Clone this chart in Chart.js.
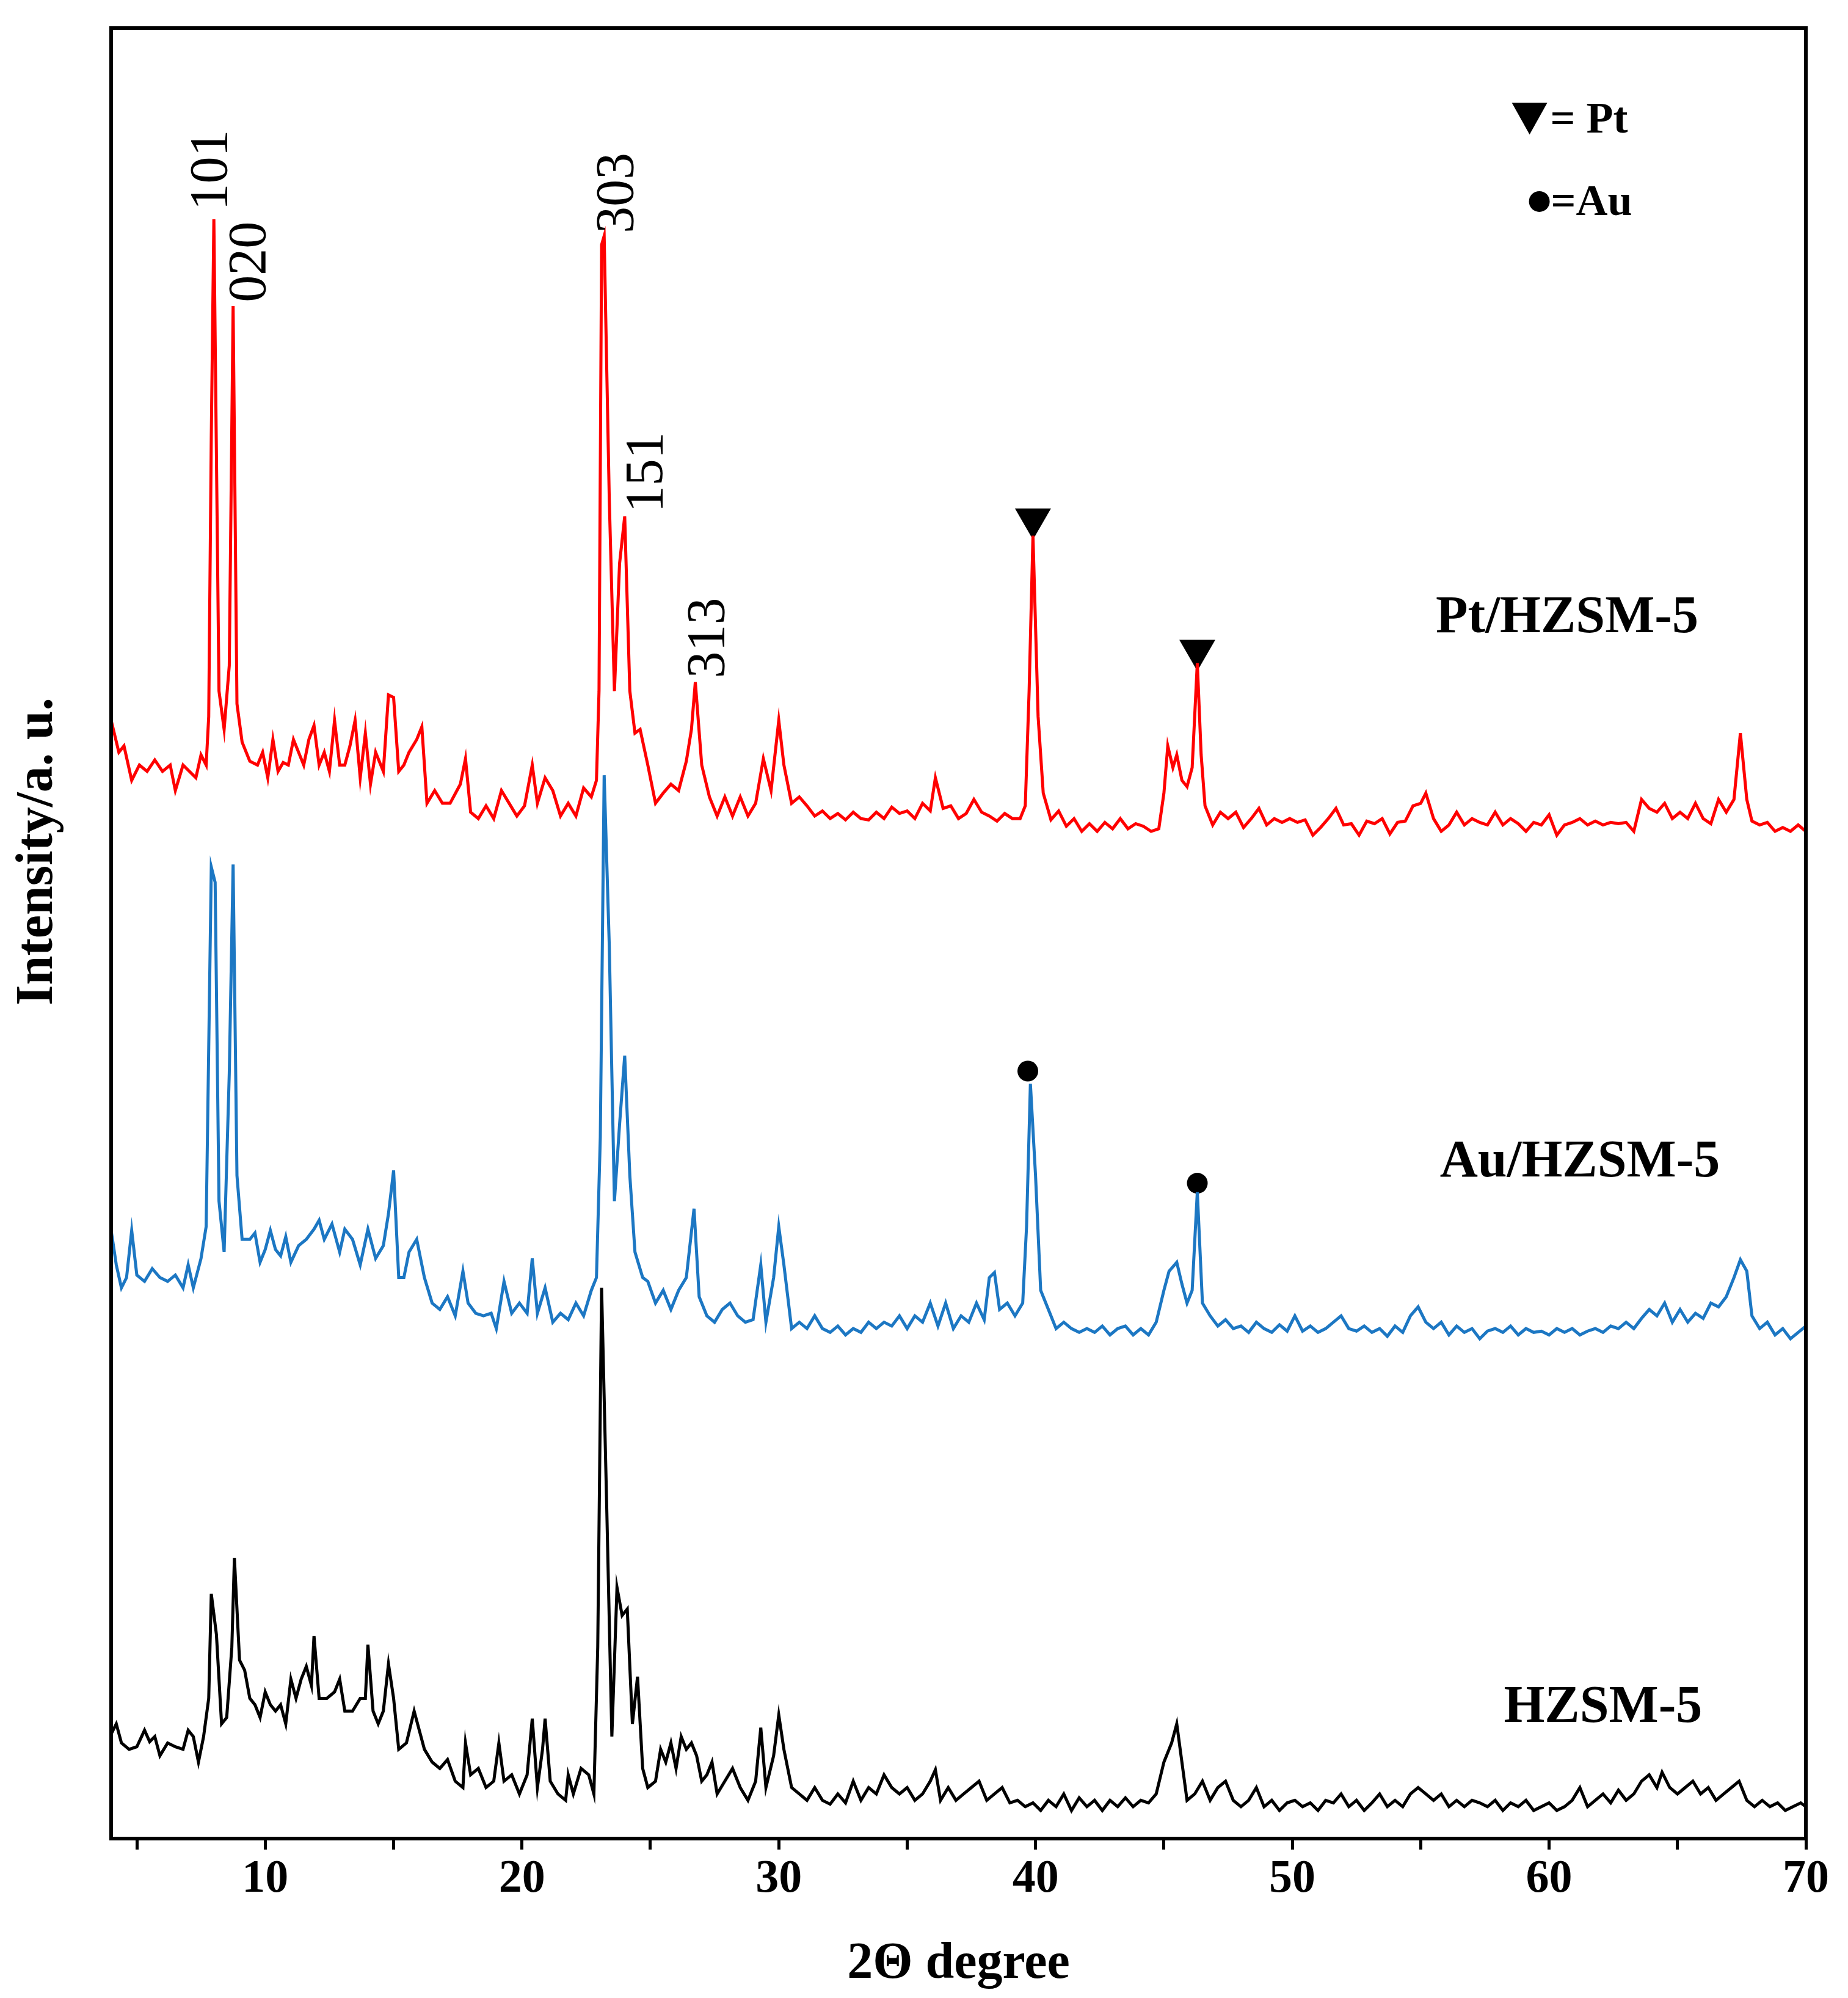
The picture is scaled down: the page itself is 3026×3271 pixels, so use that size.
<!DOCTYPE html>
<html><head><meta charset="utf-8">
<script src="https://cdn.jsdelivr.net/npm/chart.js@4"></script>
<style>html,body{margin:0;padding:0;background:#fff}</style>
</head><body>
<canvas id="c" width="3026" height="3271" style="width:3026px;height:3271px"></canvas>
<script>
const ptPoints=[[4.0,877],[4.3,852],[4.5,857],[4.8,830],[5.1,842],[5.4,837],[5.7,846],[6.0,837],[6.3,842],[6.5,822],[6.8,842],[7.1,836],[7.3,832],[7.5,850],[7.7,842],[7.8,880],[7.9,1100],[8.0,1270],[8.2,900],[8.4,870],[8.6,920],[8.75,1202],[8.9,890],[9.1,860],[9.4,845],[9.7,842],[9.9,852],[10.1,832],[10.3,862],[10.5,837],[10.7,844],[10.9,842],[11.1,862],[11.3,852],[11.5,842],[11.7,862],[11.9,873],[12.1,842],[12.3,852],[12.5,837],[12.7,877],[12.9,842],[13.1,842],[13.3,857],[13.5,877],[13.7,832],[13.9,867],[14.1,827],[14.3,852],[14.6,837],[14.8,897],[15.0,895],[15.2,837],[15.4,842],[15.6,852],[15.9,862],[16.1,872],[16.3,812],[16.6,822],[16.9,812],[17.2,812],[17.6,827],[17.8,847],[18.0,805],[18.3,800],[18.6,810],[18.9,800],[19.2,822],[19.5,812],[19.8,802],[20.1,810],[20.4,842],[20.6,812],[20.9,832],[21.2,822],[21.5,802],[21.8,812],[22.1,802],[22.4,824],[22.7,817],[22.9,830],[23.0,900],[23.1,1250],[23.2,1257],[23.4,1050],[23.6,900],[23.8,1000],[24.0,1037],[24.2,900],[24.4,867],[24.6,870],[24.9,842],[25.2,812],[25.5,820],[25.8,827],[26.1,822],[26.4,845],[26.6,870],[26.75,907],[27.0,842],[27.3,817],[27.6,802],[27.9,817],[28.2,802],[28.5,817],[28.8,802],[29.1,812],[29.4,847],[29.7,822],[30.0,877],[30.2,842],[30.5,812],[30.8,817],[31.1,810],[31.4,802],[31.7,806],[32.0,800],[32.3,804],[32.6,799],[32.9,805],[33.2,800],[33.5,799],[33.8,805],[34.1,800],[34.4,809],[34.7,804],[35.0,806],[35.3,800],[35.6,812],[35.9,806],[36.1,832],[36.4,808],[36.7,810],[37.0,800],[37.3,804],[37.6,815],[37.9,805],[38.2,802],[38.5,798],[38.8,804],[39.1,800],[39.4,800],[39.6,810],[39.75,900],[39.9,1022],[40.1,880],[40.3,820],[40.6,799],[40.9,806],[41.2,794],[41.5,800],[41.8,790],[42.1,796],[42.4,790],[42.7,797],[43.0,792],[43.3,800],[43.6,792],[43.9,796],[44.2,794],[44.5,790],[44.8,792],[45.0,820],[45.15,857],[45.35,840],[45.5,850],[45.7,830],[45.9,825],[46.1,840],[46.3,922],[46.45,850],[46.6,810],[46.9,795],[47.2,805],[47.5,800],[47.8,805],[48.1,793],[48.4,800],[48.7,808],[49.0,795],[49.3,800],[49.6,797],[49.9,800],[50.2,797],[50.5,799],[50.8,787],[51.1,793],[51.4,800],[51.7,808],[52.0,795],[52.3,796],[52.6,787],[52.9,798],[53.2,796],[53.5,800],[53.8,788],[54.1,797],[54.4,798],[54.7,810],[55.0,812],[55.2,820],[55.5,800],[55.8,790],[56.1,795],[56.4,805],[56.7,795],[57.0,800],[57.3,797],[57.6,795],[57.9,805],[58.2,795],[58.5,800],[58.8,796],[59.1,790],[59.4,797],[59.7,795],[60.0,803],[60.3,787],[60.6,795],[60.9,797],[61.2,800],[61.5,795],[61.8,798],[62.1,795],[62.4,797],[62.7,796],[63.0,797],[63.3,790],[63.6,815],[63.9,808],[64.2,805],[64.5,812],[64.8,800],[65.1,805],[65.4,800],[65.7,812],[66.0,800],[66.3,796],[66.6,815],[66.9,805],[67.2,815],[67.45,867],[67.7,815],[67.9,798],[68.2,795],[68.5,797],[68.8,790],[69.1,793],[69.4,790],[69.7,795],[70.0,790]];
const auPoints=[[4.0,477],[4.2,450],[4.4,432],[4.6,440],[4.8,477],[5.0,442],[5.3,437],[5.6,447],[5.9,440],[6.2,437],[6.5,442],[6.8,432],[7.0,450],[7.2,432],[7.5,455],[7.7,480],[7.8,620],[7.9,762],[8.05,750],[8.2,500],[8.4,460],[8.6,600],[8.75,764],[8.9,520],[9.1,470],[9.4,470],[9.6,475],[9.8,452],[10.0,462],[10.2,477],[10.4,462],[10.6,457],[10.8,472],[11.0,452],[11.3,465],[11.6,470],[11.9,478],[12.1,485],[12.3,470],[12.6,482],[12.9,460],[13.1,478],[13.4,470],[13.7,450],[14.0,478],[14.3,455],[14.6,465],[14.8,490],[15.0,524],[15.2,440],[15.4,440],[15.6,460],[15.9,470],[16.2,440],[16.5,420],[16.8,415],[17.1,425],[17.4,410],[17.7,445],[17.9,420],[18.2,412],[18.5,410],[18.8,412],[19.0,400],[19.3,437],[19.6,412],[19.9,420],[20.2,412],[20.4,455],[20.6,412],[20.9,432],[21.2,405],[21.5,412],[21.8,407],[22.1,420],[22.4,410],[22.7,430],[22.9,440],[23.05,550],[23.2,834],[23.4,700],[23.6,500],[23.8,560],[24.0,614],[24.2,520],[24.4,460],[24.7,440],[24.9,437],[25.2,420],[25.5,430],[25.8,415],[26.1,430],[26.4,440],[26.7,494],[26.9,425],[27.2,410],[27.5,405],[27.8,415],[28.1,420],[28.4,410],[28.7,405],[29.0,407],[29.3,450],[29.5,405],[29.8,440],[30.0,480],[30.2,450],[30.5,400],[30.8,405],[31.1,400],[31.4,410],[31.7,400],[32.0,397],[32.3,402],[32.6,395],[32.9,400],[33.2,397],[33.5,405],[33.8,400],[34.1,405],[34.4,402],[34.7,410],[35.0,400],[35.3,410],[35.6,405],[35.9,420],[36.2,402],[36.5,420],[36.8,400],[37.1,410],[37.4,405],[37.7,420],[38.0,407],[38.2,440],[38.4,444],[38.6,415],[38.9,420],[39.2,410],[39.5,420],[39.65,480],[39.8,592],[40.0,520],[40.2,430],[40.5,415],[40.8,400],[41.1,405],[41.4,400],[41.7,397],[42.0,400],[42.3,397],[42.6,402],[42.9,395],[43.2,400],[43.5,402],[43.8,395],[44.1,400],[44.4,395],[44.7,405],[45.0,430],[45.2,445],[45.5,452],[45.7,435],[45.9,420],[46.1,430],[46.3,507],[46.5,420],[46.8,410],[47.1,402],[47.4,407],[47.7,400],[48.0,402],[48.3,397],[48.6,405],[48.9,400],[49.2,397],[49.5,403],[49.8,398],[50.1,410],[50.4,398],[50.7,402],[51.0,397],[51.3,400],[51.6,405],[51.9,410],[52.2,400],[52.5,398],[52.8,402],[53.1,397],[53.4,400],[53.7,394],[54.0,402],[54.3,397],[54.6,410],[54.9,417],[55.2,405],[55.5,400],[55.8,405],[56.1,395],[56.4,402],[56.7,397],[57.0,400],[57.3,392],[57.6,398],[57.9,400],[58.2,397],[58.5,402],[58.8,395],[59.1,400],[59.4,397],[59.7,398],[60.0,395],[60.3,400],[60.6,397],[60.9,400],[61.2,395],[61.5,398],[61.8,400],[62.1,397],[62.4,402],[62.7,400],[63.0,405],[63.3,400],[63.6,408],[63.9,415],[64.2,410],[64.5,420],[64.8,405],[65.1,415],[65.4,405],[65.7,412],[66.0,408],[66.3,420],[66.6,417],[66.9,425],[67.2,440],[67.45,454],[67.7,445],[67.9,410],[68.2,400],[68.5,405],[68.8,395],[69.1,400],[69.4,392],[69.7,397],[70.0,402]];
const hzPoints=[[4.0,82],[4.2,90],[4.4,75],[4.7,70],[5.0,72],[5.3,85],[5.5,76],[5.7,80],[5.9,65],[6.2,75],[6.5,72],[6.8,70],[7.0,85],[7.2,80],[7.4,60],[7.6,80],[7.8,110],[7.9,192],[8.1,160],[8.3,90],[8.5,95],[8.7,150],[8.8,220],[9.0,140],[9.2,132],[9.4,110],[9.6,105],[9.8,95],[10.0,115],[10.2,105],[10.4,100],[10.6,105],[10.8,90],[11.0,125],[11.2,110],[11.4,125],[11.6,135],[11.8,120],[11.9,159],[12.1,110],[12.4,110],[12.7,115],[12.9,125],[13.1,100],[13.4,100],[13.7,110],[13.9,110],[14.0,152],[14.2,100],[14.4,90],[14.6,100],[14.8,137],[15.0,110],[15.2,70],[15.5,75],[15.8,100],[16.0,85],[16.2,70],[16.5,60],[16.8,55],[17.1,62],[17.4,45],[17.7,40],[17.8,75],[18.0,50],[18.3,55],[18.6,40],[18.9,45],[19.1,75],[19.3,45],[19.6,50],[19.9,35],[20.2,50],[20.4,94],[20.6,40],[20.8,70],[20.9,94],[21.1,45],[21.4,35],[21.7,30],[21.8,50],[22.0,35],[22.3,55],[22.6,50],[22.8,35],[22.95,150],[23.1,432],[23.3,260],[23.5,80],[23.7,197],[23.9,175],[24.1,180],[24.3,90],[24.5,127],[24.7,55],[24.9,40],[25.2,45],[25.4,70],[25.6,60],[25.8,75],[26.0,55],[26.2,80],[26.4,70],[26.6,75],[26.8,65],[27.0,45],[27.2,50],[27.4,60],[27.6,35],[27.9,45],[28.2,55],[28.5,40],[28.8,30],[29.1,45],[29.3,87],[29.5,40],[29.8,65],[30.0,97],[30.2,70],[30.5,40],[30.8,35],[31.1,30],[31.4,40],[31.7,30],[32.0,27],[32.3,35],[32.6,28],[32.9,45],[33.2,30],[33.5,40],[33.8,35],[34.1,50],[34.4,40],[34.7,35],[35.0,40],[35.3,30],[35.6,35],[35.9,45],[36.1,54],[36.3,30],[36.6,40],[36.9,30],[37.2,35],[37.5,40],[37.8,45],[38.1,30],[38.4,35],[38.7,40],[39.0,28],[39.3,30],[39.6,25],[39.9,28],[40.2,22],[40.5,30],[40.8,25],[41.1,35],[41.4,22],[41.7,32],[42.0,25],[42.3,30],[42.6,22],[42.9,30],[43.2,25],[43.5,32],[43.8,25],[44.1,30],[44.4,28],[44.7,35],[45.0,60],[45.3,75],[45.5,90],[45.7,60],[45.9,30],[46.2,35],[46.5,45],[46.8,30],[47.1,40],[47.4,45],[47.7,30],[48.0,25],[48.3,30],[48.6,40],[48.9,25],[49.2,30],[49.5,22],[49.8,28],[50.1,30],[50.4,25],[50.7,28],[51.0,22],[51.3,30],[51.6,28],[51.9,35],[52.2,25],[52.5,30],[52.8,22],[53.1,28],[53.4,35],[53.7,25],[54.0,30],[54.3,25],[54.6,35],[54.9,40],[55.2,35],[55.5,30],[55.8,35],[56.1,25],[56.4,30],[56.7,25],[57.0,30],[57.3,28],[57.6,25],[57.9,30],[58.2,22],[58.5,28],[58.8,25],[59.1,30],[59.4,22],[59.7,25],[60.0,28],[60.3,22],[60.6,25],[60.9,30],[61.2,40],[61.5,25],[61.8,30],[62.1,35],[62.4,28],[62.7,38],[63.0,30],[63.3,35],[63.6,45],[63.9,50],[64.2,40],[64.4,52],[64.7,40],[65.0,35],[65.3,40],[65.6,45],[65.9,35],[66.2,40],[66.5,30],[66.8,35],[67.1,40],[67.4,45],[67.7,30],[68.0,25],[68.3,30],[68.6,25],[68.9,28],[69.2,22],[69.5,25],[69.8,28],[70.0,25]];
const ptMarkers=[[39.9,1035],[46.3,932]];
const auMarkers=[[39.7,602],[46.3,514]];
const peakLabels=[["101",7.95,1277],["020",9.45,1205],["303",23.75,1259],["151",24.9,1040],["313",27.3,910]];
const seriesLabels=[["Pt/HZSM-5",60.7,957],["Au/HZSM-5",61.2,530],["HZSM-5",62.1,102]];
const xTickLabels=[10,20,30,40,50,60,70];

const toXY=a=>a.map(p=>({x:p[0],y:p[1]}));
const line=(pts,color)=>({type:'line',data:toXY(pts),borderColor:color,borderWidth:5,pointRadius:0,tension:0,fill:false});
const FONT='"Liberation Serif", "DejaVu Serif", serif';

const extras={id:'extras',afterDraw(ch){
  const c=ch.ctx,xs=ch.scales.x,ys=ch.scales.y,a=ch.chartArea;
  c.save();
  c.fillStyle='#000';
  c.font='88px '+FONT;
  c.textAlign='left';c.textBaseline='middle';
  peakLabels.forEach(([t,x,y])=>{c.save();c.translate(xs.getPixelForValue(x),ys.getPixelForValue(y));c.rotate(-Math.PI/2);c.fillText(t,0,0);c.restore();});
  c.font='bold 86px '+FONT;c.textAlign='center';
  seriesLabels.forEach(([t,x,y])=>c.fillText(t,xs.getPixelForValue(x),ys.getPixelForValue(y)));
  // y title
  c.save();c.translate(63,1394);c.rotate(-Math.PI/2);c.font='bold 86px '+FONT;c.fillText('Intensity/a. u.',0,0);c.restore();
  // legend
  c.textAlign='left';c.font='bold 72px '+FONT;
  const lx=xs.getPixelForValue(59.24),ly=ys.getPixelForValue(1349);
  c.beginPath();c.moveTo(lx-29,ly-26);c.lineTo(lx+29,ly-26);c.lineTo(lx,ly+26);c.closePath();c.fill();
  c.fillText('= Pt',lx+34,ly+4);
  const cx=xs.getPixelForValue(59.62),cy=ys.getPixelForValue(1284);
  c.beginPath();c.arc(cx,cy,17,0,Math.PI*2);c.fill();
  c.fillText('=Au',cx+19,cy+4);
  c.lineWidth=6;c.strokeStyle='#000';c.strokeRect(a.left,a.top,a.right-a.left,a.bottom-a.top);
  c.restore();
}};

new Chart(document.getElementById('c'),{
  data:{datasets:[
    line(ptPoints,'#ff0000'),
    line(auPoints,'#1c77c3'),
    line(hzPoints,'#000000'),
    {type:'scatter',data:toXY(ptMarkers),pointStyle:'triangle',rotation:180,pointRadius:34,backgroundColor:'#000',borderColor:'#000',borderWidth:0},
    {type:'scatter',data:toXY(auMarkers),pointStyle:'circle',pointRadius:17,backgroundColor:'#000',borderColor:'#000',borderWidth:0}
  ]},
  options:{responsive:false,animation:false,devicePixelRatio:1,
    layout:{padding:{top:46,right:69,left:0,bottom:0}},
    plugins:{legend:{display:false},tooltip:{enabled:false}},
    scales:{
      x:{type:'linear',min:4,max:70,
        afterBuildTicks:s=>{s.ticks=[];for(let v=5;v<=70;v+=5)s.ticks.push({value:v});},
        afterFit:s=>{s.height=261;},
        ticks:{stepSize:5,color:'#000',font:{family:FONT,size:76,weight:'bold'},padding:4,maxRotation:0,autoSkip:false,
          callback:v=>xTickLabels.includes(v)?String(v):''},
        grid:{drawOnChartArea:false,drawTicks:true,tickLength:18,tickWidth:5,color:'#000'},
        border:{display:true,width:6,color:'#000'},
        title:{display:true,text:'2Θ degree',color:'#000',font:{family:FONT,size:84,weight:'bold'},padding:{top:0}}},
      y:{min:0,max:1420,
        afterFit:s=>{s.width=182;},
        ticks:{display:false},grid:{display:false,drawTicks:false},
        border:{display:true,width:6,color:'#000'},
        title:{display:false}}
    }},
  plugins:[extras]
});
</script>
</body></html>
